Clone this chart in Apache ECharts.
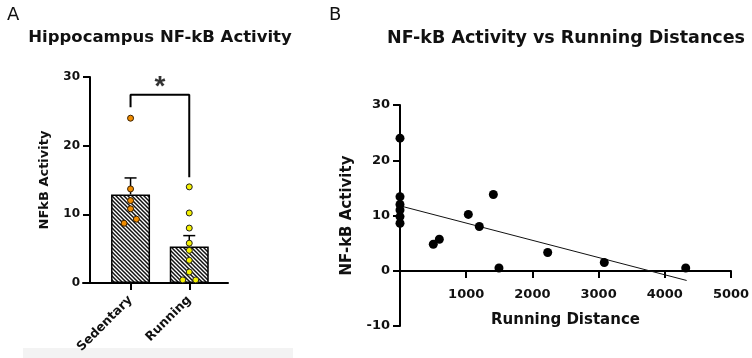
<!DOCTYPE html>
<html>
<head>
<meta charset="utf-8">
<script src="https://cdn.jsdelivr.net/npm/echarts@6/dist/echarts.min.js"></script>
<style>
html,body{margin:0;padding:0;background:#fff;}
#chart{width:752px;height:358px;}
</style>
</head>
<body>
<div id="chart"></div>
<script>
// ---- Panel A data ----
const groups = ['Sedentary', 'Running'];
const groupMeans = [12.9, 5.3];
const groupErrTop = [15.3, 6.9];
const sedentaryValues = [24.0, 13.7, 12.0, 10.8, 9.3, 8.7];
const sedentaryJitter = [0, 0, 0, 0, 0.1, -0.11];
const runningValues = [14.0, 10.2, 8.0, 5.8, 4.75, 3.3, 1.6, 0.45, 0.45];
const runningJitter = [0, 0, 0, 0, 0, 0, 0, -0.11, 0.11];
const yTicksA = [0, 10, 20, 30];
const bracket = [[0, 25.6], [0, 27.4], [1, 27.4], [1, 15.4]];
const sigLabel = '*';
const sigPos = [[0.5, 29.3]];

// ---- Panel B data ----
const runDistance = [0, 0, 0, 0, 0, 0, 1410, 1032, 1198, 594, 503, 1495, 2231, 3086, 4316];
const nfkbActivity = [24.0, 13.4, 12.0, 11.0, 9.8, 8.6, 13.8, 10.2, 8.0, 5.7, 4.8, 0.5, 3.3, 1.5, 0.5];
const fitLine = [[0, 11.75], [4330, -1.76]];
const xTicksB = [0, 1000, 2000, 3000, 4000, 5000];
const yTicksB = [-10, 0, 10, 20, 30];

const FONT = 'DejaVu Sans';

// hatch pattern
const pc = document.createElement('canvas');
pc.width = 4; pc.height = 4;
const pctx = pc.getContext('2d');
pctx.fillStyle = '#ffffff';
pctx.fillRect(0, 0, 4, 4);
pctx.strokeStyle = '#111';
pctx.lineWidth = 1.5;
pctx.beginPath();
pctx.moveTo(-1, -1); pctx.lineTo(5, 5);
pctx.moveTo(-1, 3); pctx.lineTo(1, 5);
pctx.moveTo(3, -1); pctx.lineTo(5, 1);
pctx.stroke();

const chart = echarts.init(document.getElementById('chart'), null, {renderer: 'canvas'});

const axisLineStyle = {color: '#000', width: 2};
const tickLabel = {color: '#111', fontFamily: FONT, fontWeight: 'bold', fontSize: 12};

const option = {
  animation: false,
  backgroundColor: '#fff',
  title: [
    {text: 'A', left: 2, top: 1, textStyle: {fontFamily: FONT, fontWeight: 'normal', fontSize: 18, color: '#111'}},
    {text: 'Hippocampus NF-kB Activity', left: 155, top: 24, textAlign: 'center',
      textStyle: {fontFamily: FONT, fontWeight: 'bold', fontSize: 16.5, color: '#111'}},
    {text: 'B', left: 324, top: 1, textStyle: {fontFamily: FONT, fontWeight: 'normal', fontSize: 18, color: '#111'}},
    {text: 'NF-kB Activity vs Running Distances', left: 561, top: 24, textAlign: 'center',
      textStyle: {fontFamily: FONT, fontWeight: 'bold', fontSize: 17.5, color: '#111'}}
  ],
  graphic: [
    {type: 'rect', left: 23, top: 348, shape: {width: 270, height: 10}, style: {fill: '#f3f3f3'}, z: -1}
  ],
  grid: [
    {left: 83, right: 752 - 228, top: 77, bottom: 358 - 283, outerBoundsMode: 'none', containLabel: false},
    {left: 400, right: 21, top: 105, bottom: 32, outerBoundsMode: 'none', containLabel: false},
    {left: 400, right: 21, top: 105, bottom: 87, outerBoundsMode: 'none', containLabel: false}
  ],
  xAxis: [
    {
      gridIndex: 0, type: 'value', min: -0.81, max: 1.66,
      axisLine: {show: true, onZero: false, lineStyle: axisLineStyle},
      axisTick: {show: true, length: 7, lineStyle: {color: '#000', width: 2}, customValues: [0, 1]},
      axisLabel: Object.assign({}, tickLabel, {fontSize: 12.5, rotate: 45, margin: 15, customValues: [0, 1],
        formatter: v => groups[Math.round(v)]}),
      splitLine: {show: false}
    },
    {
      gridIndex: 1, type: 'value', min: 0, max: 5000, interval: 1000, show: false
    },
    {
      gridIndex: 2, type: 'value', min: 0, max: 5000, interval: 1000,
      name: 'Running Distance', nameLocation: 'middle', nameGap: 42,
      nameTextStyle: {fontFamily: FONT, fontWeight: 'bold', fontSize: 15, color: '#111'},
      axisLine: {show: true, onZero: false, lineStyle: axisLineStyle},
      axisTick: {show: true, length: 7, lineStyle: {color: '#000', width: 2}},
      axisLabel: Object.assign({}, tickLabel, {fontSize: 13, margin: 17, showMinLabel: false,
        formatter: v => String(v)}),
      splitLine: {show: false}
    }
  ],
  yAxis: [
    {
      gridIndex: 0, type: 'value', min: 0, max: 30, interval: 10, offset: -7,
      name: 'NFkB Activity', nameLocation: 'middle', nameGap: 39, nameRotate: 90,
      nameTextStyle: {fontFamily: FONT, fontWeight: 'bold', fontSize: 13, color: '#111'},
      axisLine: {show: true, onZero: false, lineStyle: axisLineStyle},
      axisTick: {show: true, length: 7, lineStyle: {color: '#000', width: 2}},
      axisLabel: Object.assign({}, tickLabel, {margin: 10, formatter: v => String(v)}),
      splitLine: {show: false}
    },
    {
      gridIndex: 1, type: 'value', min: -10, max: 30, interval: 10,
      name: 'NF-kB Activity', nameLocation: 'middle', nameGap: 45, nameRotate: 90,
      nameTextStyle: {fontFamily: FONT, fontWeight: 'bold', fontSize: 15, color: '#111'},
      axisLine: {show: true, onZero: false, lineStyle: axisLineStyle},
      axisTick: {show: true, length: 7, lineStyle: {color: '#000', width: 2}},
      axisLabel: Object.assign({}, tickLabel, {fontSize: 13, margin: 10, formatter: v => String(v)}),
      splitLine: {show: false}
    },
    {
      gridIndex: 2, type: 'value', min: 0, max: 30, show: false
    }
  ],
  series: [
    {
      type: 'bar', xAxisIndex: 0, yAxisIndex: 0, barWidth: 39,
      data: groupMeans.map((m, i) => [i, m]),
      itemStyle: {color: {image: pc, repeat: 'repeat'}, borderColor: '#000', borderWidth: 1.5},
      z: 2
    },
    {
      type: 'custom', xAxisIndex: 0, yAxisIndex: 0,
      data: groupMeans.map((m, i) => [i, m, groupErrTop[i]]),
      renderItem: function (params, api) {
        const base = api.coord([api.value(0), api.value(1)]);
        const top = api.coord([api.value(0), api.value(2)]);
        return {
          type: 'group', children: [
            {type: 'line', shape: {x1: base[0], y1: base[1], x2: top[0], y2: top[1]}, style: {stroke: '#000', lineWidth: 1.5}},
            {type: 'line', shape: {x1: top[0] - 6, y1: top[1], x2: top[0] + 6, y2: top[1]}, style: {stroke: '#000', lineWidth: 1.5}}
          ]
        };
      },
      z: 3
    },
    {
      type: 'scatter', xAxisIndex: 0, yAxisIndex: 0, symbolSize: 6,
      data: sedentaryValues.map((v, i) => [0 + sedentaryJitter[i], v]),
      itemStyle: {color: '#f08c00', borderColor: '#3a2000', borderWidth: 1, opacity: 1},
      z: 5
    },
    {
      type: 'scatter', xAxisIndex: 0, yAxisIndex: 0, symbolSize: 6,
      data: runningValues.map((v, i) => [1 + runningJitter[i], v]),
      itemStyle: {color: '#f4f000', borderColor: '#222', borderWidth: 1, opacity: 1},
      z: 5
    },
    {
      type: 'line', xAxisIndex: 0, yAxisIndex: 0, data: bracket, symbol: 'none',
      lineStyle: {color: '#000', width: 2}, z: 4
    },
    {
      type: 'scatter', xAxisIndex: 0, yAxisIndex: 0, symbolSize: 0,
      data: sigPos,
      label: {show: true, position: 'inside', formatter: sigLabel, fontFamily: 'Liberation Sans', fontWeight: 'bold', fontSize: 28, color: '#000', offset: [0, 5]},
      z: 5
    },
    {
      type: 'scatter', xAxisIndex: 1, yAxisIndex: 1, symbolSize: 9,
      data: runDistance.map((d, i) => [d, nfkbActivity[i]]),
      itemStyle: {color: '#000', opacity: 1}, z: 5
    },
    {
      type: 'line', xAxisIndex: 1, yAxisIndex: 1, data: fitLine, symbol: 'none',
      lineStyle: {color: '#111', width: 1}, z: 4
    }
  ]
};
chart.setOption(option);
</script>
</body>
</html>
